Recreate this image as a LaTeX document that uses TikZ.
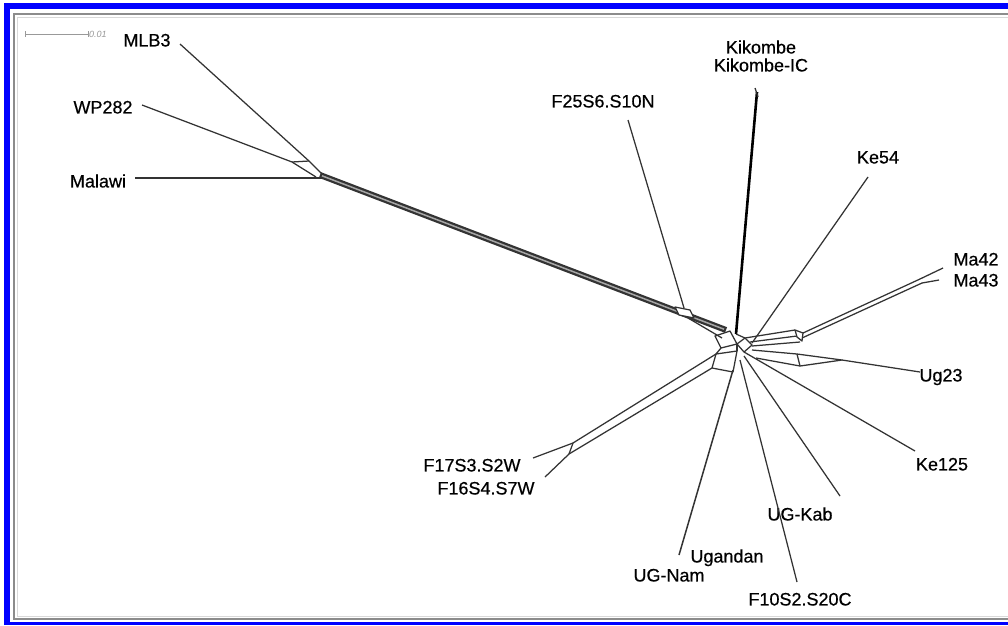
\documentclass[tikz,border=0pt]{standalone}
\usepackage{fontspec}
\setmainfont{Liberation Sans}
\newfontfamily\taxfont{Liberation Sans}[FakeBold=0.5]
\usepackage{tikz}

\begin{document}
\begin{tikzpicture}[x=1pt,y=-1pt,
  split/.style={black!80,line width=1.25pt,line join=round},
  taxon/.style={black,inner sep=0pt,text height=12.9pt,text depth=0pt,
    font=\taxfont\fontsize{18}{20}\selectfont}]
\useasboundingbox (0,0) rectangle (1008,625);
% frame
\fill[blue] (4,3) rectangle (1008,625);
\fill[white] (10,9) rectangle (1008,622);
\draw[gray!90,line width=2pt] (1008,14) -- (14,14) -- (14,619) -- (1008,619);
\draw[gray!30,line width=1pt] (1008,17) -- (17,17) -- (17,616) -- (1008,616);
% scale bar
\draw[gray!80,line width=0.8pt] (25,34) -- (88,34);
\draw[gray!80,line width=0.8pt] (25,31) -- (25,37);
\draw[gray!80,line width=0.8pt] (88,31) -- (88,37);
\node[gray!80,anchor=west,inner sep=1pt,font=\fontsize{9}{10}\selectfont\itshape] at (88,34) {0.01};
% taxa
\foreach \nm/\x/\y/\t in {mlb/147/40/MLB3, wp/103/107/WP282, mal/98/181/Malawi,
    fts/603/101/F25S6.S10N, kik/761/47/Kikombe, kikic/761/65/Kikombe-IC,
    kef/878/157/Ke54, maa/976/259/Ma42, mab/976/280/Ma43, ugt/941/375/Ug23,
    keo/942/464/Ke125, ugk/800/514/UG-Kab, fto/800/599/F10S2.S20C,
    uga/727/556/Ugandan, ugn/669/575/UG-Nam, fss/472/465/F17S3.S2W,
    fsf/486/488/F16S4.S7W}
  {\node[taxon] (\nm) at (\x,\y) {\t};}
% left splits
\draw[split] (180,44) -- (309,161) -- (322,174);
\draw[split] (142,105) -- (292,162) -- (316,177);
\draw[split] (292,162) -- (309,161);
\draw[split] (135,178) -- (326,178);
% long band
\draw[black!80,line width=6pt] (320,175) -- (726,330);
\draw[black!35,line width=1.5pt] (322,175.8) -- (724,329.2);
\draw[split,fill=white] (675,307) -- (690,310) -- (694,318) -- (679,315) -- cycle;
\draw[split] (628,120) -- (684,308);
\draw[split] (688,318) -- (722,338);
% hub
\draw[black,line width=2.6pt] (757,92) -- (736,334);
\draw[split] (755,88) -- (758,97);
\draw[split] (715,336) -- (730,331) -- (737,344) -- (721,348) -- cycle;
\draw[split] (716,354) -- (737,351) -- (733,372) -- (712,368) -- cycle;
\draw[split] (721,348) -- (716,354);
\draw[split] (737,344) -- (737,351);
\draw[split] (737,344) -- (745,338) -- (752,345) -- (744,352) -- cycle;
\draw[split] (736,334) -- (745,338);
% Ma42 / Ma43
\draw[split] (745,338) -- (795,330);
\draw[split] (750,342) -- (797,336);
\draw[split] (752,346) -- (800,342);
\draw[split] (795,330) -- (803,333) -- (802,341) -- (797,337) -- cycle;
\draw[split] (803,333) -- (920,279);
\draw[split] (802,338) -- (922,283);
\draw[split] (920,279) -- (943,268);
\draw[split] (922,283) -- (939,280);
% Ug23
\draw[split] (752,350) -- (797,354) -- (842,360) -- (800,366) -- (756,358);
\draw[split] (797,354) -- (800,366);
\draw[split] (842,360) -- (920,372);
% rays
\draw[split] (752,343) -- (868,177);
\draw[split] (744,352) -- (915,451);
\draw[split] (744,356) -- (840,496);
\draw[split] (740,360) -- (797,582);
\draw[split,line width=1.5pt] (733,370) -- (679,555);
% F17 / F16
\draw[split] (716,354) -- (573,443);
\draw[split] (712,368) -- (569,454);
\draw[split] (573,443) -- (569,454);
\draw[split] (573,443) -- (533,458);
\draw[split] (569,454) -- (545,477);
\end{tikzpicture}
\end{document}
